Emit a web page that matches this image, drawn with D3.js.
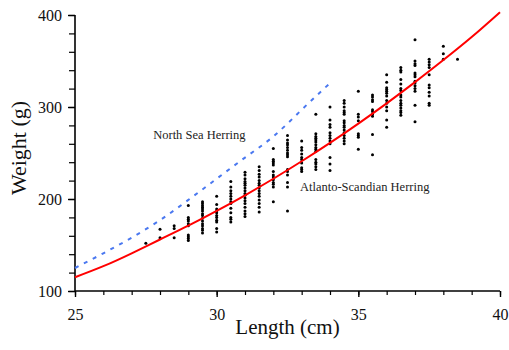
<!DOCTYPE html>
<html>
<head>
<meta charset="utf-8">
<script src="https://cdn.jsdelivr.net/npm/d3@7"></script>
<style>
  body { margin: 0; background: #fff; }
  svg { display: block; font-family: "Liberation Serif", "Times New Roman", serif; }
</style>
</head>
<body>
<div id="chart"></div>
<script>
// length classes (cm) and the weights (g) measured in each
const lengthClasses = [27.5, 28, 28.5, 29, 29.5, 30, 30.5, 31, 31.5, 32, 32.5, 33,
  33.5, 34, 34.5, 35, 35.5, 36, 36.5, 37, 37.5, 38, 38.5];
const weightsByLength = [
  [152],
  [167, 158],
  [171, 168, 158],
  [193, 180, 178, 176, 173, 171, 161, 159, 157, 155],
  [197, 195, 193, 191, 189, 187, 184, 182, 179, 176, 173, 171, 168, 166, 163],
  [203, 194, 189, 187, 185, 182, 180, 177, 175, 168, 164],
  [219, 213, 209, 206, 203, 200, 197, 195, 190, 185, 180, 178, 175],
  [229, 226, 222, 219, 217, 215, 212, 209, 206, 204, 201, 198, 195, 191, 187, 184, 181],
  [235, 231, 227, 224, 220, 217, 215, 212, 209, 206, 203, 199, 195, 191, 186],
  [255, 243, 241, 239, 237, 230, 226, 224, 221, 218, 216, 213, 197],
  [269, 264, 261, 259, 256, 253, 250, 248, 246, 232, 230, 226, 218, 213, 187],
  [263, 256, 253, 249, 245, 243, 239, 234, 232, 230],
  [292, 271, 268, 266, 264, 262, 259, 256, 254, 252, 243, 240, 238, 235, 232],
  [300, 286, 281, 278, 272, 269, 266, 263, 260, 245, 238, 231],
  [307, 304, 300, 296, 294, 292, 285, 283, 280, 278, 275, 272, 269, 266, 263, 260],
  [317, 292, 289, 285, 271, 269, 267, 254],
  [313, 311, 308, 306, 297, 295, 292, 290, 270, 248],
  [335, 327, 321, 319, 317, 315, 312, 307, 304, 300, 296, 286, 278],
  [343, 340, 338, 330, 325, 320, 318, 313, 311, 307, 304, 302, 299, 296, 294, 291],
  [373, 350, 347, 345, 337, 335, 333, 328, 326, 323, 320, 317, 302, 284],
  [352, 349, 346, 343, 335, 324, 321, 316, 312, 304, 302],
  [366, 358, 352],
  [352]
];

// fitted curves
const atlantoLengths = [25, 26, 27, 28, 29, 30, 31, 32, 33, 34, 35, 36, 37, 38, 39, 40];
const atlantoWeights = [115, 127, 141, 156, 171, 187, 204, 222, 241, 261, 282, 304, 327, 351, 376, 403];
const northSeaLengths = [25, 26, 27, 28, 29, 30, 31, 32, 33, 34];
const northSeaWeights = [125, 141, 158, 177, 199, 222, 245, 268, 297, 326];

const xTickLabels = [25, 30, 35, 40];
const yTickLabels = [100, 200, 300, 400];

const width = 509, height = 350;

const svg = d3.select('#chart')
  .append('svg')
  .attr('width', width)
  .attr('height', height);

const x = d3.scaleLinear().domain([25, 40]).range([75, 500]);
const y = d3.scaleLinear().domain([100, 400]).range([291, 15]);

// x axis: minor ticks every cm, labels every 5
svg.append('g')
  .attr('transform', `translate(0,${y(100)})`)
  .call(d3.axisBottom(x).tickValues(d3.range(25, 41, 1)).tickSize(4).tickFormat(''))
  .call(g => g.select('.domain').remove())
  .selectAll('line').attr('stroke', '#000').attr('stroke-width', 1.2);

svg.append('g')
  .attr('transform', `translate(0,${y(100)})`)
  .call(d3.axisBottom(x).tickValues(xTickLabels).tickSize(6).tickPadding(12).tickFormat(d3.format('d')))
  .call(g => g.select('.domain').attr('stroke-width', 1.6).attr('d', `M${x(25)},0H${x(40)}`))
  .call(g => g.selectAll('line').attr('stroke-width', 1.4))
  .call(g => g.selectAll('text').attr('font-size', 16).attr('fill', '#111').attr('font-family', 'Liberation Serif'));

// y axis: minor ticks every 20 g
svg.append('g')
  .attr('transform', `translate(${x(25)},0)`)
  .call(d3.axisLeft(y).tickValues(d3.range(100, 401, 20)).tickSize(6).tickFormat(''))
  .call(g => g.select('.domain').remove())
  .selectAll('line').attr('stroke', '#000').attr('stroke-width', 1.2);

svg.append('g')
  .attr('transform', `translate(${x(25)},0)`)
  .call(d3.axisLeft(y).tickValues(yTickLabels).tickSize(7).tickPadding(6).tickFormat(d3.format('d')))
  .call(g => g.select('.domain').attr('stroke-width', 1.6).attr('d', `M0,${y(100)}V${y(400)}`))
  .call(g => g.selectAll('line').attr('stroke-width', 1.4))
  .call(g => g.selectAll('text').attr('font-size', 16).attr('fill', '#111').attr('font-family', 'Liberation Serif'));

// axis titles
svg.append('text')
  .attr('x', (x(25) + x(40)) / 2)
  .attr('y', 334)
  .attr('text-anchor', 'middle')
  .attr('font-size', 21)
  .attr('fill', '#111')
  .text('Length (cm)');

svg.append('text')
  .attr('transform', `translate(26,${(y(100) + y(400)) / 2 - 5}) rotate(-90)`)
  .attr('text-anchor', 'middle')
  .attr('font-size', 22)
  .attr('fill', '#111')
  .text('Weight (g)');

// scatter
const points = [];
lengthClasses.forEach((len, i) => {
  weightsByLength[i].forEach(w => points.push({len, w}));
});

svg.append('g')
  .selectAll('circle')
  .data(points)
  .enter()
  .append('circle')
  .attr('cx', d => x(d.len))
  .attr('cy', d => y(d.w))
  .attr('r', 1.5)
  .attr('fill', '#000');

// fitted lines
const line = d3.line()
  .x(d => x(d[0]))
  .y(d => y(d[1]))
  .curve(d3.curveNatural);

svg.append('path')
  .datum(northSeaLengths.map((l, i) => [l, northSeaWeights[i]]))
  .attr('d', line)
  .attr('fill', 'none')
  .attr('stroke', '#4a78f0')
  .attr('stroke-width', 2)
  .attr('stroke-dasharray', '4,6');

svg.append('path')
  .datum(atlantoLengths.map((l, i) => [l, atlantoWeights[i]]))
  .attr('d', line)
  .attr('fill', 'none')
  .attr('stroke', '#ff0000')
  .attr('stroke-width', 2);

// stock labels
svg.append('text')
  .attr('x', x(27.76))
  .attr('y', y(265))
  .attr('font-size', 12.5)
  .attr('fill', '#222')
  .text('North Sea Herring');

svg.append('text')
  .attr('x', x(32.94))
  .attr('y', y(209))
  .attr('font-size', 12.5)
  .attr('fill', '#222')
  .text('Atlanto-Scandian Herring');
</script>
</body>
</html>
